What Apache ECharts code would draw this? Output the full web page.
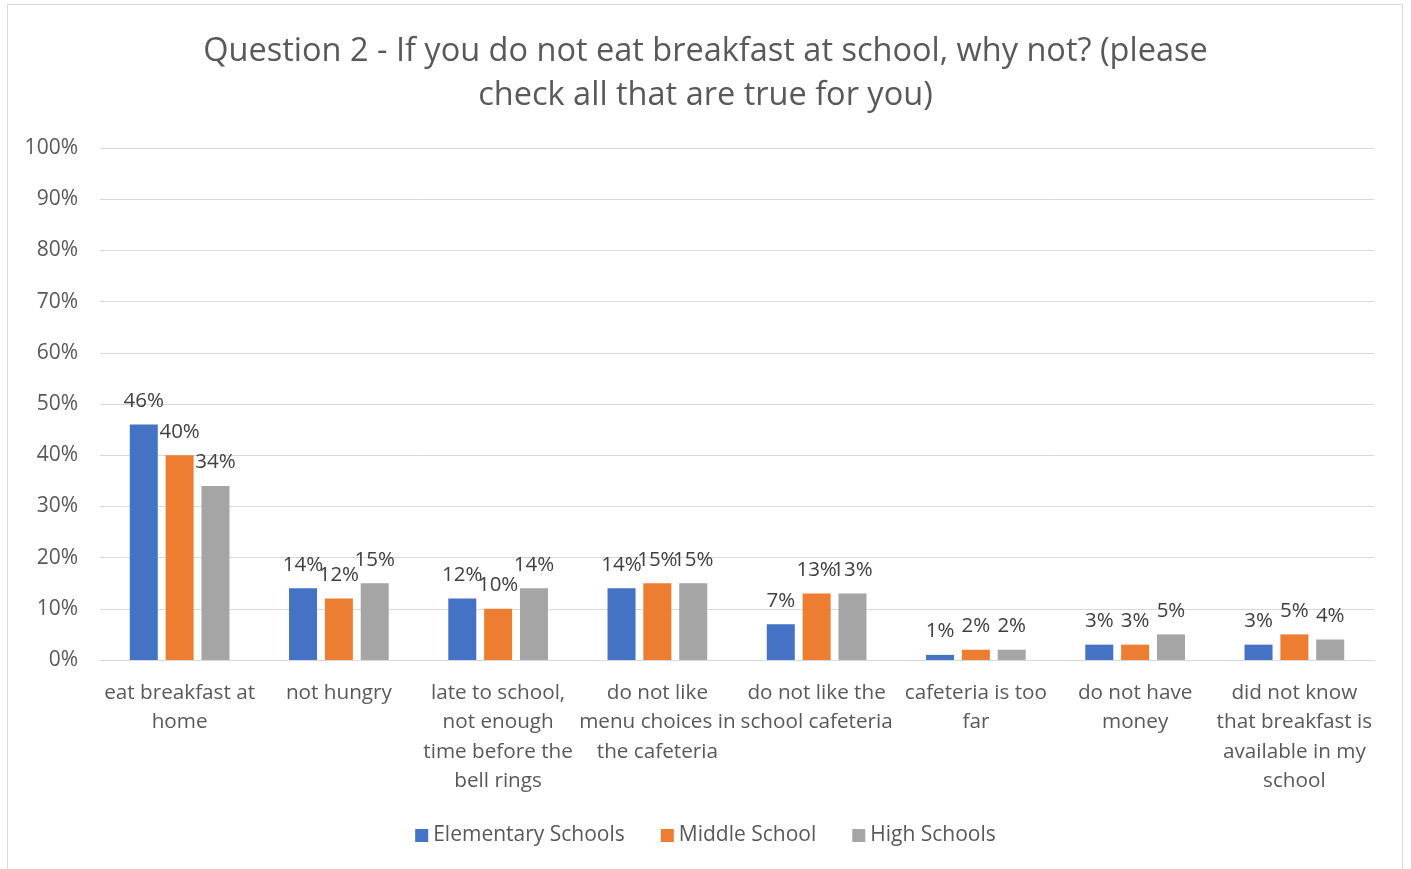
<!DOCTYPE html>
<html>
<head>
<meta charset="utf-8">
<script src="https://cdn.jsdelivr.net/npm/echarts@6/dist/echarts.min.js"></script>
<style>
html,body{margin:0;padding:0;background:#fff;}
#c{width:1411px;height:869px;}
</style>
</head>
<body>
<div id="c"></div>
<script>
const titleText = "Question 2 - If you do not eat breakfast at school, why not? (please\ncheck all that are true for you)";
const categories = [
  "eat breakfast at\nhome",
  "not hungry",
  "late to school,\nnot enough\ntime before the\nbell rings",
  "do not like\nmenu choices in\nthe cafeteria",
  "do not like the\nschool cafeteria",
  "cafeteria is too\nfar",
  "do not have\nmoney",
  "did not know\nthat breakfast is\navailable in my\nschool"
];
const seriesNames = ["Elementary Schools", "Middle School", "High Schools"];
const elementary = [46, 14, 12, 14, 7, 1, 3, 3];
const middle = [40, 12, 10, 15, 13, 2, 3, 5];
const high = [34, 15, 14, 15, 13, 2, 5, 4];
const colors = ["#4472C4", "#ED7D31", "#A5A5A5"];

const FONT = "Open Sans";
const TXT = "#595959";
const chart = echarts.init(document.getElementById('c'), null, {renderer: 'canvas'});
const mk = (name, data, color) => ({
  name, type: 'bar', data,
  barWidth: 28, barGap: '28%',
  itemStyle: {color},
  label: {show: true, position: 'top', distance: 13, formatter: '{c}%',
    fontFamily: FONT, fontSize: 20.5, color: '#404040'}
});
chart.setOption({
  animation: false,
  color: colors,
  graphic: [{type: 'rect', shape: {x: 7.5, y: 4.5, width: 1395, height: 880},
    style: {fill: 'none', stroke: '#d9d9d9', lineWidth: 1}, silent: true}],
  title: {text: titleText, left: 'center', top: 25,
    textStyle: {fontFamily: FONT, fontSize: 32.5, fontWeight: 'normal', color: TXT, lineHeight: 44}},
  legend: {bottom: 18, left: 'center', itemWidth: 13, itemHeight: 13, itemGap: 36,
    icon: 'rect', textStyle: {fontFamily: FONT, fontSize: 21, color: TXT},
    data: seriesNames},
  grid: {left: 100, right: 37, top: 148, bottom: 209},
  xAxis: {type: 'category', data: categories,
    axisLine: {lineStyle: {color: '#d9d9d9'}}, axisTick: {show: false},
    axisLabel: {interval: 0, margin: 18, fontFamily: FONT, fontSize: 20.7, color: TXT, lineHeight: 29.5}},
  yAxis: {type: 'value', min: 0, max: 100, interval: 10,
    axisLabel: {formatter: '{value}%', margin: 22, fontFamily: FONT, fontSize: 21, color: TXT},
    splitLine: {lineStyle: {color: '#d9d9d9'}}},
  series: [mk(seriesNames[0], elementary, colors[0]), mk(seriesNames[1], middle, colors[1]), mk(seriesNames[2], high, colors[2])]
});
</script>
</body>
</html>
